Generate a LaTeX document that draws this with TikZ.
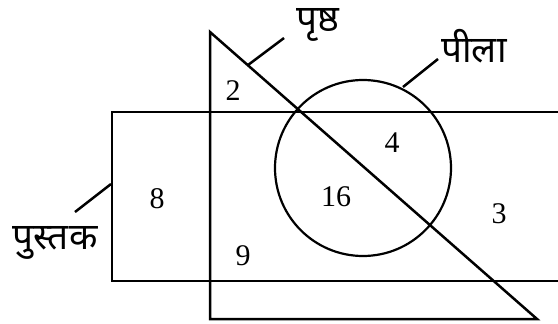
\documentclass[tikz,border=0pt]{standalone}
\usepackage{fontspec}
\setmainfont{Liberation Serif}
\newfontfamily\deva[Script=Devanagari]{Noto Sans}
\begin{document}
\begin{tikzpicture}[x=1pt,y=-1pt, line width=2.5pt,
  num/.style={font=\fontsize{30}{30}\selectfont, inner sep=0pt},
  lab/.style={font=\deva\fontsize{37}{37}\selectfont, inner sep=0pt},
  leader/.style={line width=2.5pt}]
\useasboundingbox (0,0) rectangle (558,324);
% triangle
\coordinate (T) at (210,32);
\coordinate (BL) at (210,319);
\coordinate (BR) at (537,319);
\draw[line join=miter] (T) -- (BL) -- (BR) -- cycle;
% rectangle (open at the right edge)
\coordinate (R1) at (562,112);
\coordinate (R2) at (112,112);
\coordinate (R3) at (112,281);
\coordinate (R4) at (562,281);
\draw[line join=miter] (R1) -- (R2) -- (R3) -- (R4);
% circle
\node[circle, draw, line width=2.2pt, minimum size=176pt, inner sep=0pt, outer sep=0pt] (C) at (363,168) {};
% labels
\node[lab] (prishth) at (318,25) {पृष्ठ};
\node[lab] (peela) at (474,46) {पीला};
\node[lab] (pustak) at (55,243) {पुस्तक};
\coordinate (a1) at (248,65);
\coordinate (a2) at (284,38);
\coordinate (b1) at (403,87);
\coordinate (b2) at (438,59);
\coordinate (c1) at (75,212);
\coordinate (c2) at (111,184);
\draw[leader] (a1) -- (a2);
\draw[leader] (b1) -- (b2);
\draw[leader] (c1) -- (c2);
% numbers
\node[num] (n2) at (233,91) {2};
\node[num] (n4) at (392,143) {4};
\node[num] (n8) at (157,199) {8};
\node[num] (n9) at (243,256) {9};
\node[num] (n16) at (336,197) {16};
\node[num] (n3) at (499,214) {3};
\end{tikzpicture}
\end{document}
